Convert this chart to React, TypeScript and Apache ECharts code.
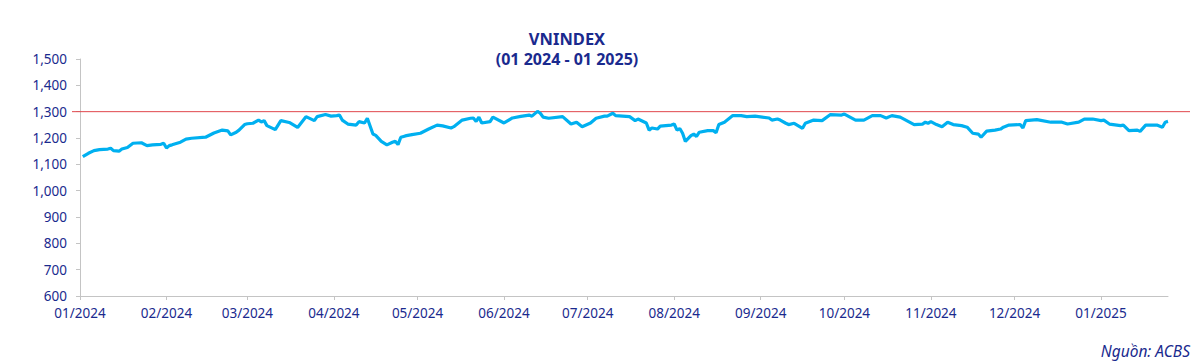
import React, { useEffect, useRef } from "react";
import * as echarts from "echarts";

// ---- Data ----
const titleLines = ["VNINDEX", "(01 2024 - 01 2025)"];
const sourceNote = "Nguồn: ACBS";
const axisStart = "2024-01-01";
const axisEnd = "2025-01-25";
const yTicks = { min: 600, max: 1500, step: 100 };
const referenceLevel = [1300, 1300];

const dates = [
  "2024-01-02","2024-01-04","2024-01-06","2024-01-08","2024-01-11","2024-01-12","2024-01-13","2024-01-15","2024-01-16","2024-01-18",
  "2024-01-20","2024-01-23","2024-01-25","2024-01-27","2024-01-30","2024-01-31","2024-02-01","2024-02-02","2024-02-03","2024-02-06",
  "2024-02-08","2024-02-10","2024-02-15","2024-02-18","2024-02-21","2024-02-23","2024-02-24","2024-02-26","2024-02-27","2024-02-29",
  "2024-03-01","2024-03-03","2024-03-05","2024-03-06","2024-03-07","2024-03-08","2024-03-11","2024-03-13","2024-03-16","2024-03-19",
  "2024-03-22","2024-03-25","2024-03-26","2024-03-29","2024-03-31","2024-04-02","2024-04-03","2024-04-04","2024-04-06","2024-04-09",
  "2024-04-10","2024-04-12","2024-04-13","2024-04-15","2024-04-16","2024-04-18","2024-04-20","2024-04-22","2024-04-23","2024-04-24",
  "2024-04-25","2024-04-26","2024-04-27","2024-04-29","2024-05-02","2024-05-05","2024-05-08","2024-05-10","2024-05-13","2024-05-14",
  "2024-05-17","2024-05-20","2024-05-21","2024-05-22","2024-05-23","2024-05-24","2024-05-27","2024-05-28","2024-06-01","2024-06-04",
  "2024-06-07","2024-06-10","2024-06-11","2024-06-13","2024-06-14","2024-06-15","2024-06-17","2024-06-22","2024-06-25","2024-06-27",
  "2024-06-29","2024-07-02","2024-07-04","2024-07-07","2024-07-08","2024-07-10","2024-07-11","2024-07-16","2024-07-18","2024-07-19",
  "2024-07-22","2024-07-23","2024-07-24","2024-07-26","2024-07-27","2024-07-31","2024-08-01","2024-08-02","2024-08-03","2024-08-04",
  "2024-08-05","2024-08-07","2024-08-08","2024-08-09","2024-08-10","2024-08-13","2024-08-15","2024-08-16","2024-08-17","2024-08-19",
  "2024-08-22","2024-08-25","2024-08-27","2024-08-30","2024-09-04","2024-09-05","2024-09-07","2024-09-08","2024-09-10","2024-09-11",
  "2024-09-13","2024-09-16","2024-09-17","2024-09-20","2024-09-23","2024-09-26","2024-09-30","2024-10-01","2024-10-05","2024-10-08",
  "2024-10-11","2024-10-14","2024-10-16","2024-10-18","2024-10-21","2024-10-23","2024-10-26","2024-10-29","2024-10-30","2024-10-31",
  "2024-11-01","2024-11-03","2024-11-05","2024-11-07","2024-11-09","2024-11-12","2024-11-14","2024-11-16","2024-11-18","2024-11-19",
  "2024-11-21","2024-11-24","2024-11-26","2024-11-27","2024-11-29","2024-12-03","2024-12-04","2024-12-05","2024-12-09","2024-12-14",
  "2024-12-18","2024-12-20","2024-12-24","2024-12-26","2024-12-29","2025-01-01","2025-01-02","2025-01-04","2025-01-08","2025-01-09",
  "2025-01-11","2025-01-14","2025-01-15","2025-01-17","2025-01-21","2025-01-23","2025-01-24","2025-01-25",
];

const vnindex = [
  1129,1142,1152,1156,1158,1161,1152,1150,1158,1164,
  1180,1182,1171,1174,1176,1180,1162,1171,1174,1184,
  1196,1199,1203,1219,1230,1227,1212,1222,1230,1251,
  1254,1256,1268,1261,1266,1247,1232,1266,1259,1240,
  1281,1266,1281,1289,1283,1285,1287,1268,1253,1249,
  1262,1257,1275,1215,1210,1187,1174,1184,1188,1175,
  1203,1206,1209,1213,1218,1234,1249,1246,1238,1243,
  1268,1275,1276,1263,1279,1257,1262,1279,1257,1276,
  1282,1287,1283,1301,1294,1279,1275,1281,1253,1260,
  1243,1257,1275,1283,1283,1294,1285,1281,1266,1272,
  1257,1230,1238,1234,1245,1249,1253,1230,1236,1218,
  1187,1209,1215,1206,1222,1228,1228,1220,1251,1260,
  1285,1285,1281,1283,1276,1268,1272,1268,1256,1251,
  1256,1237,1256,1268,1266,1289,1287,1291,1268,1268,
  1285,1285,1276,1285,1279,1268,1251,1253,1260,1256,
  1262,1251,1243,1260,1251,1247,1241,1218,1215,1203,
  1226,1230,1234,1241,1249,1251,1238,1266,1270,1260,
  1260,1253,1260,1272,1272,1266,1268,1253,1247,1249,
  1228,1230,1225,1249,1249,1241,1260,1263,
];

const NAVY = "#1a2a8e";
const FONT = "Noto Sans";

function buildCalendar(start: string, end: string): string[] {
  const out: string[] = [];
  const d = new Date(start + "T00:00:00Z");
  const e = new Date(end + "T00:00:00Z");
  while (d.getTime() <= e.getTime()) {
    out.push(d.toISOString().slice(0, 10));
    d.setUTCDate(d.getUTCDate() + 1);
  }
  return out;
}

export default function App() {
  const ref = useRef<HTMLDivElement>(null);

  useEffect(() => {
    if (!ref.current) return;
    const chart = echarts.init(ref.current, undefined, { renderer: "svg" });

    const calendar = buildCalendar(axisStart, axisEnd);
    const lookup = new Map<string, number>();
    dates.forEach((d, i) => lookup.set(d, vnindex[i]));
    const seriesData = calendar.map((d) => (lookup.has(d) ? lookup.get(d)! : null));
    const isMonthStart = (_i: number, v: string) => v.slice(8, 10) === "01";

    chart.setOption({
      animation: false,
      backgroundColor: "#ffffff",
      textStyle: { fontFamily: FONT },
      grid: [
        { left: 80, right: 32, top: 59, bottom: 68 },
        { left: 72, right: 10, top: 59, bottom: 68 },
      ],
      xAxis: [
        {
          type: "category",
          gridIndex: 0,
          data: calendar,
          boundaryGap: false,
          axisLine: { lineStyle: { color: "#c4c4c4", width: 1 } },
          axisTick: { show: true, interval: isMonthStart, length: 4, lineStyle: { color: "#c4c4c4" } },
          axisLabel: {
            interval: isMonthStart,
            color: NAVY,
            fontFamily: FONT,
            fontSize: 13.5,
            margin: 10,
            formatter: (v: string) => `${v.slice(5, 7)}/${v.slice(0, 4)}`,
          },
          splitLine: { show: false },
        },
        { type: "value", gridIndex: 1, min: 0, max: 1, show: false },
      ],
      yAxis: [
        {
          type: "value",
          gridIndex: 0,
          min: yTicks.min,
          max: yTicks.max,
          interval: yTicks.step,
          axisLine: { show: true, lineStyle: { color: "#c4c4c4", width: 1 } },
          axisTick: { show: true, length: 4, lineStyle: { color: "#c4c4c4" } },
          axisLabel: {
            color: NAVY,
            fontFamily: FONT,
            fontSize: 13.5,
            margin: 13,
            formatter: (v: number) => v.toLocaleString("en-US"),
          },
          splitLine: { show: false },
        },
        { type: "value", gridIndex: 1, min: yTicks.min, max: yTicks.max, show: false },
      ],
      series: [
        {
          type: "line",
          xAxisIndex: 1,
          yAxisIndex: 1,
          data: [
            [0, referenceLevel[0]],
            [1, referenceLevel[1]],
          ],
          symbol: "none",
          silent: true,
          lineStyle: { color: "#e0474c", width: 1 },
          z: 1,
        },
        {
          type: "line",
          xAxisIndex: 0,
          yAxisIndex: 0,
          data: seriesData,
          connectNulls: true,
          showSymbol: false,
          symbol: "none",
          lineStyle: { color: "#00b0f0", width: 3.2 },
          z: 3,
        },
      ],
      graphic: [
        {
          type: "text",
          x: 567,
          y: 38,
          style: {
            text: titleLines[0],
            fill: NAVY,
            font: `bold 16.5px "${FONT}"`,
            textAlign: "center",
            textVerticalAlign: "middle",
          },
        },
        {
          type: "text",
          x: 567,
          y: 59,
          style: {
            text: titleLines[1],
            fill: NAVY,
            font: `bold 16px "${FONT}"`,
            textAlign: "center",
            textVerticalAlign: "middle",
          },
        },
        {
          type: "text",
          right: 10,
          top: 343,
          style: {
            text: sourceNote,
            fill: NAVY,
            font: `italic 15.5px "${FONT}"`,
          },
        },
      ],
    });

    return () => chart.dispose();
  }, []);

  return (
    <div
      ref={ref}
      style={{ position: "fixed", left: 0, top: 0, width: 1200, height: 364, background: "#fff" }}
    />
  );
}
